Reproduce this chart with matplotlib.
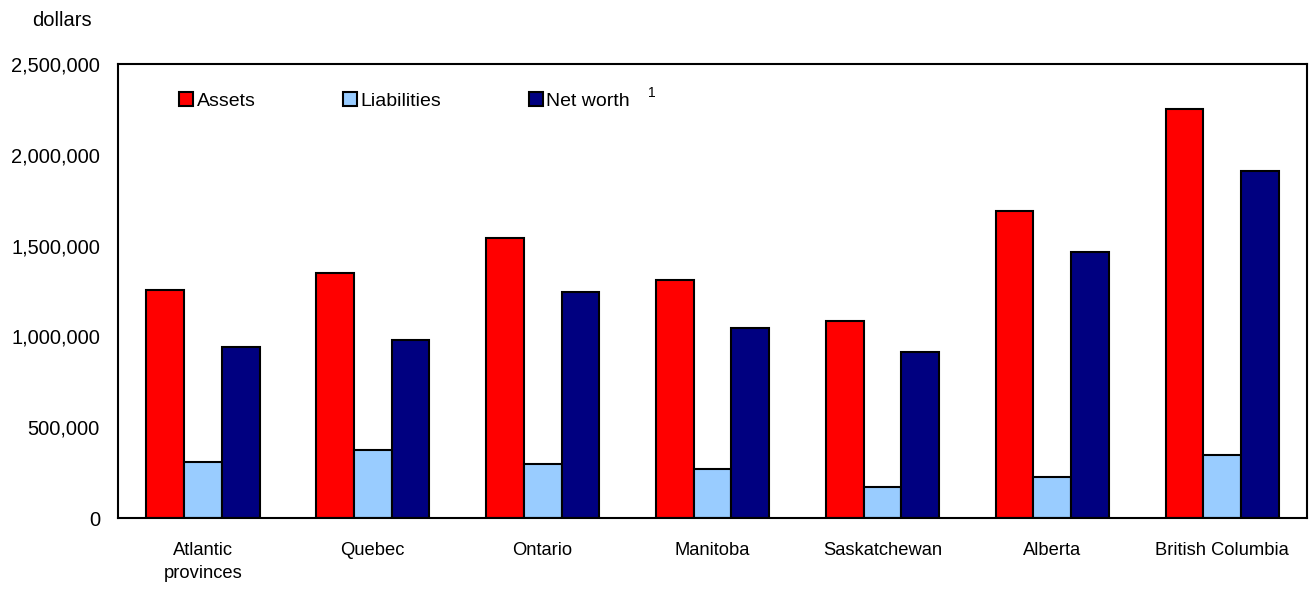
import numpy as np
import matplotlib
matplotlib.use("Agg")
from matplotlib import pyplot as plt
from matplotlib.patches import Patch
from matplotlib.ticker import FuncFormatter

plt.rcParams['font.family'] = ['Liberation Sans', 'DejaVu Sans']

provinces = ['Atlantic\nprovinces', 'Quebec', 'Ontario', 'Manitoba',
             'Saskatchewan', 'Alberta', 'British Columbia']
assets = [1255000, 1351000, 1542000, 1313000, 1085000, 1689000, 2254000]
liabilities = [310000, 373000, 297000, 268000, 173000, 224000, 349000]
net_worth = [943000, 982000, 1245000, 1048000, 912000, 1463000, 1909000]

series = [('Assets', assets, '#FF0000'),
          ('Liabilities', liabilities, '#99CCFF'),
          ('Net worth', net_worth, '#000080')]

fig = plt.figure(figsize=(13.1, 5.89), dpi=100)
ax = fig.add_axes([0.0901, 0.1205, 0.9076, 0.7708])

x = np.arange(len(provinces))
w = 0.222
for i, (name, vals, col) in enumerate(series):
    ax.bar(x + (i - 1) * w, vals, width=w, color=col, edgecolor='black',
           linewidth=1.5, label=name, zorder=2)

ax.set_xlim(-0.5, len(provinces) - 0.5)
ax.set_ylim(0, 2500000)
ax.set_yticks(np.arange(0, 2500001, 500000))
ax.yaxis.set_major_formatter(FuncFormatter(lambda v, p: f'{int(v):,}'))
ax.set_xticks(x)
ax.set_xticklabels(provinces, fontsize=13.2, linespacing=1.5)
ax.tick_params(axis='y', length=0, pad=13, labelsize=14.5)
ax.tick_params(axis='x', length=0, pad=17)

for s in ax.spines.values():
    s.set_linewidth(1.5)
    s.set_color('black')

# legend in a single row inside the plot
handles = [Patch(facecolor=c, edgecolor='black', linewidth=1.5, label=n)
           for n, _, c in series]
ax.legend(handles=handles, ncol=3, frameon=False, fontsize=14,
          loc='center left', bbox_to_anchor=(0.045, 0.918),
          handlelength=0.7, handleheight=0.7, handletextpad=0.2,
          columnspacing=4.5, borderaxespad=0)
fig.text(648 / 1310, 1 - 93 / 589, '1', fontsize=10, ha='left', va='center')

fig.text(62 / 1310, 1 - 21 / 589, 'dollars', fontsize=14.5, ha='center', va='center')

fig.savefig('out.png', dpi=100)
